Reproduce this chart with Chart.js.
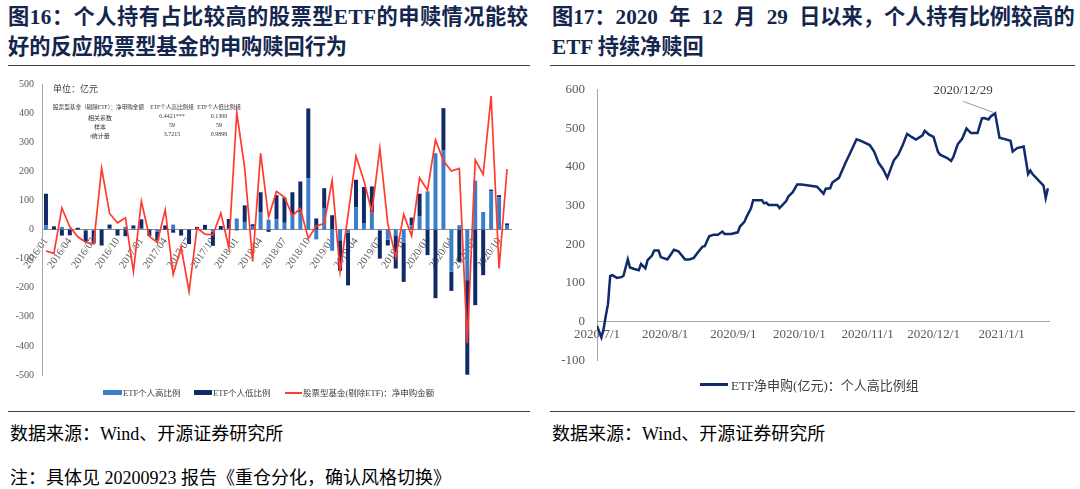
<!DOCTYPE html>
<html>
<head>
<meta charset="utf-8">
<script src="https://cdn.jsdelivr.net/npm/chart.js@4"></script>
<style>
  body { margin: 0; background: #fff; width: 1080px; height: 489px; position: relative; overflow: hidden;
         font-family: "Liberation Serif", "Noto Sans CJK SC", serif; color: #000; }
  .title { position: absolute; font-weight: bold; font-size: 21.2px; line-height: 30px; color: #14264d; white-space: nowrap; }
  .rule { position: absolute; height: 0; border-top: 1.5px solid #404040; }
  .src { position: absolute; font-size: 18px; white-space: nowrap; }
  .abs { position: absolute; white-space: nowrap; }
  canvas { position: absolute; }
</style>
</head>
<body>
<div class="title" style="left:8px;top:2px;"><span style="letter-spacing:0.5px">图16：个人持有占比较高的股票型ETF的申赎情况能较</span><br>好的反应股票型基金的申购赎回行为</div>
<div class="title" style="left:552px;top:2px;word-spacing:6px;">图17：2020 年 12 月 29 日以来，个人持有比例较高的<br><span style="word-spacing:0">ETF 持续净赎回</span></div>
<div class="rule" style="left:8px;top:65px;width:522px;"></div>
<div class="rule" style="left:550px;top:65px;width:525px;"></div>

<canvas id="c1" width="530" height="320" style="left:0;top:70px;"></canvas>
<canvas id="c2" width="540" height="310" style="left:540px;top:70px;"></canvas>

<div class="abs" style="left:53px;top:82px;font-size:9px;color:#404040;">单位：亿元</div>
<div id="stats"></div>

<div id="legend1"></div>
<div id="legend2"></div>

<div class="rule" style="left:8px;top:411px;width:522px;"></div>
<div class="rule" style="left:550px;top:411px;width:525px;"></div>
<div class="src" style="left:10px;top:419px;">数据来源：Wind、开源证券研究所</div>
<div class="src" style="left:552px;top:419px;">数据来源：Wind、开源证券研究所</div>
<div class="src" style="left:10px;top:463px;">注：具体见 20200923 报告《重仓分化，确认风格切换》</div>

<script>
// ---- 图16 data (亿元, monthly 2016/01 - 2020/11) ----
const months = [
  '2016/01','2016/02','2016/03','2016/04','2016/05','2016/06','2016/07','2016/08','2016/09','2016/10','2016/11','2016/12',
  '2017/01','2017/02','2017/03','2017/04','2017/05','2017/06','2017/07','2017/08','2017/09','2017/10','2017/11','2017/12',
  '2018/01','2018/02','2018/03','2018/04','2018/05','2018/06','2018/07','2018/08','2018/09','2018/10','2018/11','2018/12',
  '2019/01','2019/02','2019/03','2019/04','2019/05','2019/06','2019/07','2019/08','2019/09','2019/10','2019/11','2019/12',
  '2020/01','2020/02','2020/03','2020/04','2020/05','2020/06','2020/07','2020/08','2020/09','2020/10','2020/11'
];
const highRatio = [
  15, 0, 9, 3, 0, -3, -5, 0, 3, 0, 9, 3,
  3, 0, -8, 0, 17, 0, 0, 0, 0, -8, 0, 3,
  38, 26, 12, 60, 34, 35, 23, 50, 60, 176, -34, 74,
  -73, -37, -10, 77, 20, 60, -5, -35, -20, -45, 15, 46,
  131, 262, 271, -145, 15, -174, 168, 60, 131, 110, 13
];
const lowRatio = [
  108, 11, -21, -20, 6, -39, -43, -55, 14, -21, -23, 11,
  32, -22, -30, 14, -11, -21, -50, 9, 16, -48, 12, 33,
  -3, 57, 6, 68, -8, 83, 87, 78, 105, 240, 38, 68,
  49, -105, -182, 94, 126, 88, -95, -20, -114, -135, 26, 77,
  -88, -236, 146, -66, -111, -325, -260, -157, 6, 8, 8
];
const stockFundNet = [
  -74, -82, 74, 9, -25, -44, -50, 211, 55, 23, 40, -145,
  97, -23, -45, 68, -155, -60, -213, 5, -16, -18, 56, -61,
  402, 211, -110, 262, 43, 131, 111, 48, 72, -31, 12, 20,
  168, -145, 50, 252, 168, 60, 279, 20, -96, 52, -22, 177,
  135, 308, 236, 201, 210, -391, 239, 189, 459, -134, 208
];
const statsHeader = ['股票型基金（剔除ETF）：净申购金额', 'ETF个人高比例组', 'ETF个人低比例组'];
const statsRows = [
  ['相关系数', '0.4421***', '0.1300'],
  ['样本', '59', '59'],
  ['t统计量', '3.7215', '0.9899']
];

// ---- 图17 data (ETF净申购, 亿元) ----
const etfDates = [
  '2020/7/1','2020/7/3','2020/7/4','2020/7/5','2020/7/6','2020/7/7','2020/7/8','2020/7/10','2020/7/12','2020/7/13',
  '2020/7/15','2020/7/16','2020/7/18','2020/7/20','2020/7/21','2020/7/23','2020/7/24','2020/7/26','2020/7/27','2020/7/29','2020/7/30',
  '2020/8/2','2020/8/5','2020/8/7','2020/8/10','2020/8/12','2020/8/14','2020/8/16','2020/8/18','2020/8/19','2020/8/21',
  '2020/8/23','2020/8/25','2020/8/27','2020/8/28','2020/8/31',
  '2020/9/3','2020/9/4','2020/9/6','2020/9/7','2020/9/9','2020/9/10','2020/9/14','2020/9/15','2020/9/16','2020/9/17',
  '2020/9/21','2020/9/22','2020/9/25','2020/9/26','2020/9/28','2020/9/30',
  '2020/10/2','2020/10/9','2020/10/12','2020/10/13','2020/10/15','2020/10/16','2020/10/19','2020/10/22','2020/10/24','2020/10/27','2020/10/29',
  '2020/11/2','2020/11/4','2020/11/6','2020/11/8','2020/11/10','2020/11/13','2020/11/15','2020/11/17','2020/11/19','2020/11/21',
  '2020/11/23','2020/11/26','2020/11/27','2020/11/29',
  '2020/12/1','2020/12/3','2020/12/4','2020/12/7','2020/12/9','2020/12/10','2020/12/12','2020/12/14','2020/12/16','2020/12/18',
  '2020/12/20','2020/12/21','2020/12/23','2020/12/24','2020/12/26','2020/12/27','2020/12/29','2020/12/31',
  '2021/1/2','2021/1/5','2021/1/6','2021/1/8','2021/1/11','2021/1/13','2021/1/14','2021/1/15','2021/1/20','2021/1/21','2021/1/22'
];
const etfNet = [
  -11, -41, -19, 15, 45, 118, 120, 113, 115, 118,
  161, 140, 136, 133, 149, 138, 159, 171, 184, 184, 167,
  161, 186, 182, 161, 161, 165, 180, 194, 195, 221,
  225, 225, 233, 227, 227,
  231, 246, 258, 271, 293, 314, 314, 306, 308, 302,
  302, 294, 312, 324, 335, 355,
  355, 349, 331, 344, 345, 360, 372, 411, 435, 472, 468,
  457, 440, 411, 395, 372, 418, 432, 457, 486, 478,
  471, 482, 494, 484,
  478, 440, 432, 424, 416, 426, 459, 473, 500, 488,
  488, 488, 526, 527, 523, 531, 539, 476,
  473, 468, 440, 449, 453, 382, 391, 382, 352, 320, 345
];
const etfTickLabels = ['2020/7/1','2020/8/1','2020/9/1','2020/10/1','2020/11/1','2020/12/1','2021/1/1'];
const peakLabel = '2020/12/29';

const serif = '"Liberation Serif", "Noto Sans CJK SC", serif';
const axisGrey = '#595959';
const lightBlue = '#3a7dc9';
const navy = '#0f2a66';
const red = '#ff3a2e';

// stats table and legends as text
const stats = document.getElementById('stats');
function addText(parent, txt, left, top, size, align) {
  const d = document.createElement('div');
  d.className = 'abs';
  d.textContent = txt;
  d.style.fontSize = size + 'px';
  d.style.top = top + 'px';
  d.style.color = '#333';
  if (align === 'center') { d.style.left = (left - 50) + 'px'; d.style.width = '100px'; d.style.textAlign = 'center'; }
  else d.style.left = left + 'px';
  parent.appendChild(d);
}
addText(stats, statsHeader[0], 53, 103, 5.6);
addText(stats, statsHeader[1], 172, 103, 5.6, 'center');
addText(stats, statsHeader[2], 219, 103, 5.6, 'center');
statsRows.forEach((r, i) => {
  const top = 113 + i * 9;
  addText(stats, r[0], 100, top, 6, 'center');
  addText(stats, r[1], 172, top, 6, 'center');
  addText(stats, r[2], 219, top, 6, 'center');
});

const lg1 = document.getElementById('legend1');
lg1.innerHTML =
  '<div class="abs" style="left:103px;top:390px;width:19px;height:5px;background:' + lightBlue + '"></div>' +
  '<div class="abs" style="left:123px;top:386px;font-size:8.5px;color:#404040">ETF个人高比例</div>' +
  '<div class="abs" style="left:194px;top:390px;width:18px;height:5px;background:' + navy + '"></div>' +
  '<div class="abs" style="left:213px;top:386px;font-size:8.5px;color:#404040">ETF个人低比例</div>' +
  '<div class="abs" style="left:285px;top:392px;width:17px;height:2px;background:' + red + '"></div>' +
  '<div class="abs" style="left:303px;top:386px;font-size:8.5px;color:#404040">股票型基金(剔除ETF)：净申购金额</div>';
const lg2 = document.getElementById('legend2');
lg2.innerHTML =
  '<div class="abs" style="left:700px;top:383px;width:28px;height:2.5px;background:#0f2b6b"></div>' +
  '<div class="abs" style="left:731px;top:375px;font-size:13px;color:#404040">ETF净申购(亿元)：个人高比例组</div>';

// ---- 图16 chart ----
new Chart(document.getElementById('c1'), {
  type: 'bar',
  data: {
    labels: months,
    datasets: [
      { type: 'line', label: '股票型基金(剔除ETF)：净申购金额', data: stockFundNet, borderColor: red,
        borderWidth: 1.7, pointRadius: 0, tension: 0, order: 0, stack: 'line' },
      { label: 'ETF个人高比例', data: highRatio, backgroundColor: lightBlue, order: 1, stack: 'etf' },
      { label: 'ETF个人低比例', data: lowRatio, backgroundColor: navy, order: 1, stack: 'etf' }
    ]
  },
  options: {
    responsive: false,
    animation: false,
    layout: { padding: { top: 13, right: 19, bottom: 15, left: 0 } },
    plugins: { legend: { display: false }, tooltip: { enabled: false } },
    datasets: { bar: { barPercentage: 0.5, categoryPercentage: 1 } },
    scales: {
      x: {
        stacked: true,
        position: { y: 0 },
        offset: true,
        grid: { display: false, drawTicks: false },
        border: { color: '#8c8c8c' },
        ticks: {
          autoSkip: false, minRotation: 55, maxRotation: 55, padding: 6,
          color: axisGrey, font: { family: serif, size: 10.5 },
          callback: (v, i) => (i % 3 === 0 ? months[i] : '')
        },
        afterFit: s => { s.height = 0; }
      },
      y: {
        stacked: true,
        min: -500, max: 500,
        grid: { display: false, drawTicks: false },
        border: { color: '#a6a6a6' },
        ticks: { stepSize: 100, padding: 8, color: axisGrey, font: { family: serif, size: 10 } },
        afterFit: s => { s.width = 42; }
      }
    }
  }
});

// ---- 图17 chart ----
const dayOf = s => {
  const [y, m, d] = s.split('/').map(Number);
  return (Date.UTC(y, m - 1, d) - Date.UTC(2020, 6, 1)) / 86400000;
};

const peakNote = {
  id: 'peakNote',
  afterDatasetsDraw(chart) {
    const pt = chart.getDatasetMeta(0).data[etfDates.indexOf(peakLabel)];
    const ctx = chart.ctx;
    ctx.save();
    ctx.strokeStyle = '#808080';
    ctx.lineWidth = 0.8;
    ctx.beginPath();
    ctx.moveTo(pt.x - 32, pt.y - 12);
    ctx.lineTo(pt.x - 2, pt.y - 1);
    ctx.stroke();
    ctx.fillStyle = '#404040';
    ctx.font = '13px ' + serif;
    ctx.textAlign = 'center';
    ctx.textBaseline = 'middle';
    ctx.fillText(peakLabel, pt.x - 32, pt.y - 23);
    ctx.restore();
  }
};

new Chart(document.getElementById('c2'), {
  type: 'line',
  data: {
    datasets: [{
      label: 'ETF净申购(亿元)：个人高比例组',
      data: etfDates.map((d, i) => ({ x: dayOf(d), y: etfNet[i] })),
      borderColor: '#0f2b6b', borderWidth: 2.5, pointRadius: 0, tension: 0
    }]
  },
  options: {
    responsive: false,
    animation: false,
    layout: { padding: { top: 14, right: 31, bottom: 14, left: 0 } },
    plugins: { legend: { display: false }, tooltip: { enabled: false } },
    scales: {
      x: {
        type: 'linear',
        min: 0, max: 205.5,
        position: { y: 0 },
        grid: { display: false, drawTicks: false },
        border: { color: '#a6a6a6' },
        afterBuildTicks: s => { s.ticks = etfTickLabels.map(l => ({ value: dayOf(l) })); },
        ticks: {
          minRotation: 0, maxRotation: 0, padding: 5,
          color: axisGrey, font: { family: serif, size: 13 },
          callback: v => etfTickLabels.find(l => dayOf(l) === v) || ''
        },
        afterFit: s => { s.height = 0; }
      },
      y: {
        min: -100, max: 600,
        grid: { display: false, drawTicks: false },
        border: { color: '#a6a6a6' },
        ticks: { stepSize: 100, padding: 12, color: axisGrey, font: { family: serif, size: 13 } },
        afterFit: s => { s.width = 57; }
      }
    }
  },
  plugins: [peakNote]
});
</script>
</body>
</html>
